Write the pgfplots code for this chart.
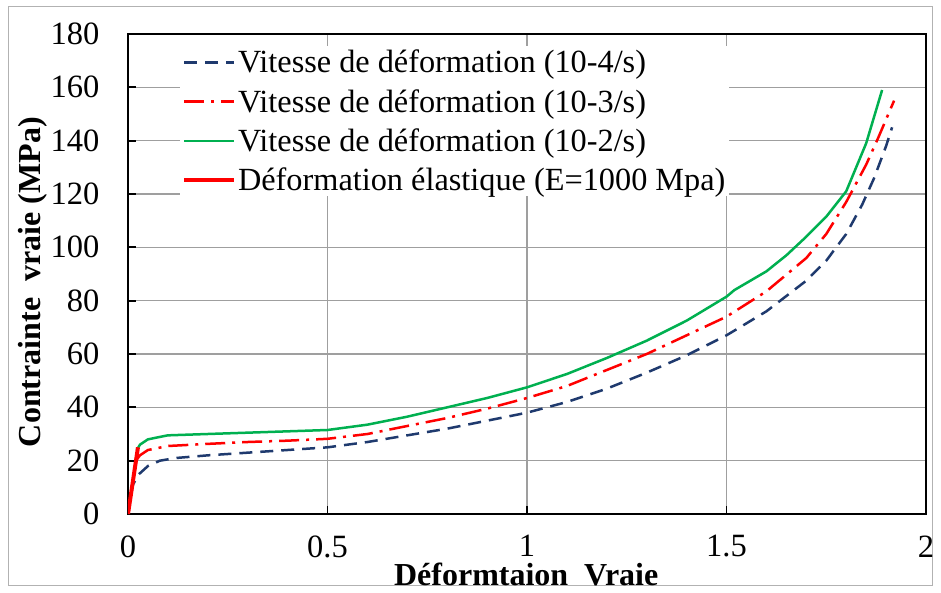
\documentclass[border=0pt]{standalone}
\usepackage{pgfplots}
\pgfplotsset{compat=1.18}
\usepackage{fontspec}
\setmainfont{Liberation Serif}

\definecolor{navyline}{HTML}{1F3A6E}
\definecolor{greenline}{HTML}{00B050}

\begin{document}
\begin{tikzpicture}
\useasboundingbox (-128pt,-78pt) rectangle (813pt,514pt);
\draw[gray!60, line width=1pt] (-119pt,-71pt) rectangle (804pt,507pt);
\begin{axis}[
    at={(0pt,0pt)}, anchor=south west,
    scale only axis,
    width=798pt, height=480pt,
    xmin=0, xmax=2,
    ymin=0, ymax=180,
    xtick={0,0.5,1,1.5,2},
    ytick={0,20,...,180},
    xticklabels={0,0.5,1,1.5,2},
    grid=major,
    grid style={gray!75, line width=1.2pt},
    axis line style={black, line width=2.5pt},
    tick align=inside,
    tick pos=left,
    major tick length=8pt,
    tick style={black, line width=1.8pt},
    /pgf/number format/assume math mode=true,
    ticklabel style={font=\fontsize{32.5}{38}\selectfont},
    yticklabel style={xshift=-25pt},
    xticklabel style={yshift=-18pt},
    xlabel={Déformtaion~~Vraie},
    ylabel={Contrainte~~vraie (MPa)},
    label style={font=\fontsize{32}{38}\selectfont\bfseries},
    xlabel style={at={(axis description cs:0.499,0)}, anchor=base, yshift=-71pt},
    ylabel style={at={(axis description cs:0,0.483)}, anchor=center, yshift=95pt},
    legend style={at={(axis description cs:0.065,0.975)}, anchor=north west,
        draw=none, fill=white, font=\fontsize{32.3}{38}\selectfont,
        row sep=11pt, inner sep=2pt},
    legend cell align=left,
    legend image code/.code={\draw[#1] (0pt,0pt) -- (50pt,0pt);},
]
\addplot[navyline, line width=2.5pt, dash pattern=on 13pt off 8pt] coordinates {
(0,0)(0.005,6)(0.0125,11)(0.025,14.6)(0.05,18)(0.08,20)(0.12,21)(0.2,22)
(0.3,23)(0.4,24)(0.5,25)(0.6,27)(0.7,29.5)(0.8,32)(0.9,35)(1.0,38)
(1.1,42)(1.2,47)(1.3,53)(1.4,59.5)(1.5,67)(1.6,76)(1.7,87.5)(1.75,95)
(1.8,105)(1.84,116)(1.87,126)(1.9,138)(1.915,145)
};
\addlegendentry{Vitesse de déformation (10-4/s)}
\addplot[red, line width=2.5pt, dash pattern=on 20pt off 7pt on 3pt off 7pt] coordinates {
(0.02,20)(0.03,22)(0.05,24)(0.1,25.5)(0.2,26.3)(0.3,27)(0.4,27.5)(0.5,28.2)
(0.6,30)(0.7,33)(0.8,36)(0.9,39.5)(1.0,43.5)(1.1,48)(1.2,54)(1.3,60)
(1.4,67)(1.5,74)(1.6,83.5)(1.7,96)(1.75,105)(1.8,117)(1.85,131)(1.88,141)(1.92,155)
};
\addlegendentry{Vitesse de déformation (10-3/s)}
\addplot[greenline, line width=2.5pt] coordinates {
(0.022,24)(0.03,26)(0.05,28)(0.1,29.5)(0.2,30)(0.3,30.5)(0.4,31)(0.5,31.5)
(0.6,33.5)(0.7,36.5)(0.8,40)(0.9,43.5)(1.0,47.5)(1.1,52.5)(1.2,58.5)(1.3,65)
(1.4,72.5)(1.5,81.5)(1.52,84)(1.6,91)(1.65,97)(1.7,104)(1.75,111.5)(1.8,121)
(1.85,139)(1.89,159)
};
\addlegendentry{Vitesse de déformation (10-2/s)}
\addplot[red, line width=4pt] coordinates {(0,0)(0.025,25)};
\addlegendentry{Déformation élastique (E=1000 Mpa)}
\end{axis}
\end{tikzpicture}
\end{document}
